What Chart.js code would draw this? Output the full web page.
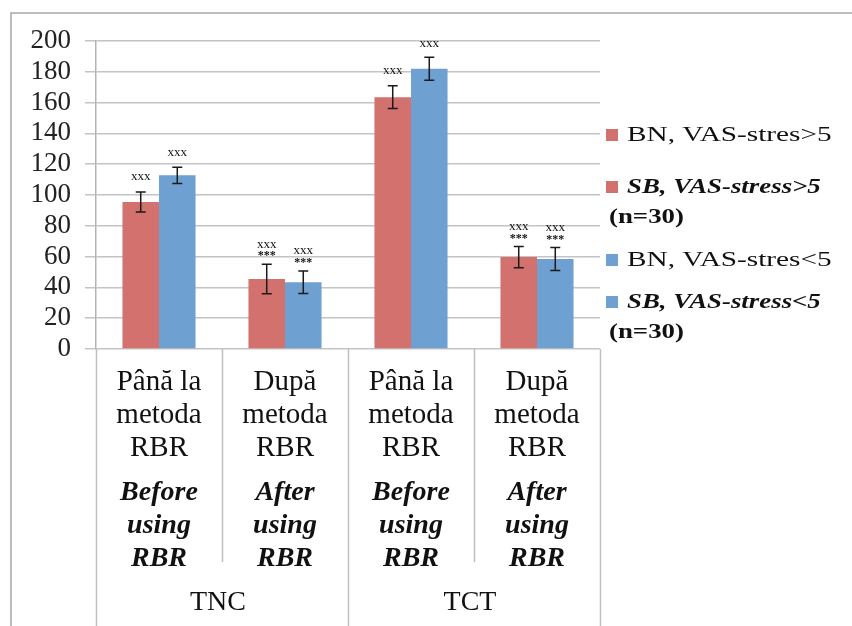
<!DOCTYPE html>
<html>
<head>
<meta charset="utf-8">
<script src="https://cdn.jsdelivr.net/npm/chart.js@4.4.1/dist/chart.umd.min.js"></script>
<style>
  html, body { margin: 0; padding: 0; background: #fff; }
  canvas { display: block; }
</style>
</head>
<body>
<canvas id="chart" width="852" height="626"></canvas>
<script>
// Chart data
const roLabels = [['Până la', 'metoda', 'RBR'], ['După', 'metoda', 'RBR'], ['Până la', 'metoda', 'RBR'], ['După', 'metoda', 'RBR']];
const enLabels = [['Before', 'using', 'RBR'], ['After', 'using', 'RBR'], ['Before', 'using', 'RBR'], ['After', 'using', 'RBR']];
const groupLabels = ['TNC', 'TCT'];

const highStress = [95.5, 45.5, 163.5, 59.7];
const highStressErr = [6.5, 9.6, 7.4, 6.9];
const lowStress = [112.8, 43.3, 182, 58.4];
const lowStressErr = [5.3, 7.3, 7.5, 7.5];

const marksTop = ['xxx', 'xxx', 'xxx', 'xxx'];
const marksSig = ['', '***', '', '***'];

const yMin = 0, yMax = 200, yStep = 20;

const legendLabels = [
    [['BN, VAS-stres>5', 'normal']],
    [['SB, VAS-stress>5', 'italic bold'], ['(n=30)', 'bold']],
    [['BN, VAS-stres<5', 'normal']],
    [['SB, VAS-stress<5', 'italic bold'], ['(n=30)', 'bold']]
];

// Styles
const RED = '#d2716e';
const BLUE = '#6fa0d2';
const SERIF = '"Liberation Serif", "Times New Roman", serif';
const legendColors = [RED, RED, BLUE, BLUE];

// Frame around the whole chart (cropped at right and bottom)
const framePlugin = {
    id: 'frame',
    beforeDraw(chart) {
        const ctx = chart.ctx;
        ctx.save();
        ctx.fillStyle = '#fff';
        ctx.fillRect(0, 0, chart.width, chart.height);
        ctx.strokeStyle = '#a8a8a8';
        ctx.lineWidth = 1.5;
        ctx.beginPath();
        ctx.moveTo(11, chart.height);
        ctx.lineTo(11, 13);
        ctx.lineTo(chart.width, 13);
        ctx.stroke();
        ctx.restore();
    }
};

// Error bars and significance marks
const errorBarPlugin = {
    id: 'errorBars',
    afterDatasetsDraw(chart) {
        const ctx = chart.ctx;
        const y = chart.scales.y;
        chart.data.datasets.forEach((ds, di) => {
            const meta = chart.getDatasetMeta(di);
            meta.data.forEach((bar, i) => {
                const v = ds.data[i];
                const e = ds.errors[i];
                const top = y.getPixelForValue(v + e);
                const bot = y.getPixelForValue(v - e);
                ctx.save();
                ctx.strokeStyle = '#1a1a1a';
                ctx.lineWidth = 1.5;
                ctx.beginPath();
                ctx.moveTo(bar.x, top);
                ctx.lineTo(bar.x, bot);
                ctx.moveTo(bar.x - 5, top);
                ctx.lineTo(bar.x + 5, top);
                ctx.moveTo(bar.x - 5, bot);
                ctx.lineTo(bar.x + 5, bot);
                ctx.stroke();

                ctx.fillStyle = '#111';
                ctx.textAlign = 'center';
                ctx.textBaseline = 'middle';
                let markY;
                if (marksSig[i]) {
                    ctx.font = 'bold 12px ' + SERIF;
                    ctx.fillText(marksSig[i], bar.x, top - 8);
                    markY = top - 20;
                } else {
                    markY = Math.max(top - 15, chart.chartArea.top + 3);
                }
                ctx.font = '13px ' + SERIF;
                ctx.fillText(marksTop[i], bar.x, markY);
                ctx.restore();
            });
        });
    }
};

// Multi-level category axis drawn below the plot
const categoryAxisPlugin = {
    id: 'categoryAxis',
    afterDraw(chart) {
        const ctx = chart.ctx;
        const x = chart.scales.x;
        const area = chart.chartArea;
        const n = roLabels.length;
        const edges = [area.left];
        for (let i = 0; i < n - 1; i++) {
            edges.push((x.getPixelForValue(i) + x.getPixelForValue(i + 1)) / 2);
        }
        edges.push(area.right);

        ctx.save();
        ctx.strokeStyle = '#c0c0c0';
        ctx.lineWidth = 1.5;
        ctx.beginPath();
        edges.forEach((ex, i) => {
            const px = Math.round(ex) + 0.5;
            ctx.moveTo(px, area.bottom);
            ctx.lineTo(px, i % 2 === 0 ? chart.height : area.bottom + 213);
        });
        ctx.stroke();

        ctx.fillStyle = '#111';
        ctx.textAlign = 'center';
        ctx.textBaseline = 'middle';
        for (let i = 0; i < n; i++) {
            const cx = x.getPixelForValue(i);
            ctx.font = '29px ' + SERIF;
            roLabels[i].forEach((line, k) => {
                ctx.fillText(line, cx, area.bottom + 33 + k * 33);
            });
            ctx.font = 'italic bold 28px ' + SERIF;
            enLabels[i].forEach((line, k) => {
                ctx.fillText(line, cx, area.bottom + 144 + k * 33);
            });
        }
        ctx.font = '28px ' + SERIF;
        groupLabels.forEach((g, gi) => {
            const cx = (edges[gi * 2] + edges[gi * 2 + 2]) / 2;
            ctx.fillText(g, cx - 4, area.bottom + 254);
        });
        ctx.restore();
    }
};

// Legend on the right
const legendPlugin = {
    id: 'sideLegend',
    afterDraw(chart) {
        const ctx = chart.ctx;
        const itemY = [135, 187, 260, 302];
        const left = chart.chartArea.right + 6;
        ctx.save();
        ctx.textAlign = 'left';
        ctx.textBaseline = 'middle';
        legendLabels.forEach((lines, i) => {
            ctx.fillStyle = legendColors[i];
            ctx.fillRect(left, itemY[i] - 6, 12, 12);
            ctx.fillStyle = '#111';
            lines.forEach(([text, style], k) => {
                const indent = k === 0 ? 21 : 3;
                ctx.font = style + ' 22px ' + SERIF;
                ctx.save();
                ctx.translate(left + indent, itemY[i] + k * 30);
                ctx.scale(style === 'normal' ? 1.33 : 1.22, 1);
                ctx.fillText(text, 0, 0);
                ctx.restore();
            });
        });
        ctx.restore();
    }
};

const chart = new Chart(document.getElementById('chart'), {
    type: 'bar',
    data: {
        labels: roLabels.map(l => l.join(' ')),
        datasets: [
            {
                label: 'BN, VAS-stres>5',
                data: highStress,
                errors: highStressErr,
                backgroundColor: RED,
                categoryPercentage: 0.58,
                barPercentage: 1.0
            },
            {
                label: 'BN, VAS-stres<5',
                data: lowStress,
                errors: lowStressErr,
                backgroundColor: BLUE,
                categoryPercentage: 0.58,
                barPercentage: 1.0
            }
        ]
    },
    options: {
        responsive: false,
        devicePixelRatio: 1,
        animation: false,
        layout: {
            padding: { left: 0, top: 41, right: 252, bottom: 0 }
        },
        plugins: {
            legend: { display: false },
            tooltip: { enabled: false }
        },
        scales: {
            x: {
                grid: { display: false },
                border: { display: false },
                ticks: { display: false },
                afterFit: scale => { scale.height = 277; }
            },
            y: {
                min: yMin,
                max: yMax,
                ticks: {
                    stepSize: yStep,
                    autoSkip: false,
                    padding: 14,
                    color: '#222',
                    font: { family: SERIF, size: 27 }
                },
                grid: { color: '#c4c4c4', lineWidth: 1.5, tickLength: 11 },
                border: { color: '#b4b4b4', width: 1.5 },
                afterFit: scale => { scale.width = 96; }
            }
        }
    },
    plugins: [framePlugin, errorBarPlugin, categoryAxisPlugin, legendPlugin]
});
</script>
</body>
</html>
